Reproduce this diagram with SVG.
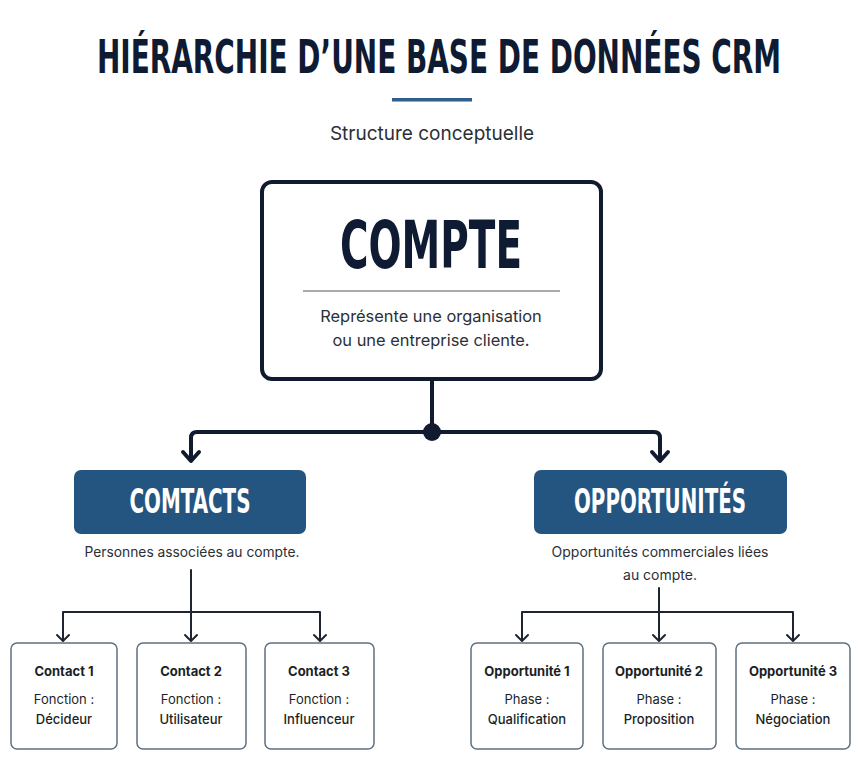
<svg xmlns="http://www.w3.org/2000/svg" width="865" height="768" viewBox="0 0 865 768">
<defs>
<style>
.cond{font-family:"DejaVu Sans Condensed","Liberation Sans",sans-serif;font-weight:bold;text-anchor:middle}
.body{font-family:Inter,"Liberation Sans",sans-serif;text-anchor:middle;fill:#2b2f36}
.thick{fill:none;stroke:#111a2e;stroke-width:4;stroke-linejoin:round;stroke-linecap:round}
.thin{fill:none;stroke:#1f2530;stroke-width:2;stroke-linejoin:round;stroke-linecap:round}
.cat{fill:#245580}
.leaf{fill:#ffffff;stroke:#5f7080;stroke-width:1.5}
.lt{font-family:Inter,"Liberation Sans",sans-serif;text-anchor:middle;font-size:13px;fill:#1b1f26}
</style>
</defs>
<rect width="865" height="768" fill="#ffffff"/>
<g id="title">
<text x="0" y="0" transform="translate(439 73) scale(0.622 1)" class="cond" font-size="46" fill="#0f1b33" textLength="1100" lengthAdjust="spacingAndGlyphs">HIÉRARCHIE D’UNE BASE DE DONNÉES CRM</text>
<rect x="392" y="98" width="80" height="3.5" fill="#2f5f8a"/>
<text x="432" y="140" class="body" font-size="19" fill="#333">Structure conceptuelle</text>
</g>
<g id="connectors">
<path class="thick" d="M432 380 V432"/>
<path class="thick" d="M432 432 H197 Q191 432 191 438 V460"/>
<path class="thick" d="M432 432 H654 Q660 432 660 438 V460"/>
<path class="thick" d="M183 452 L191 461 L199 452"/>
<path class="thick" d="M652 452 L660 461 L668 452"/>
<circle cx="432" cy="432" r="9" fill="#111a2e"/>
<path class="thin" d="M191 570 V640"/>
<path class="thin" d="M63 640 V612 H320 V640"/>
<path class="thin" d="M659 588 V640"/>
<path class="thin" d="M522 640 V612 H793 V640"/>
<g class="thin">
<path d="M57 635 L63 641 L69 635"/>
<path d="M185 635 L191 641 L197 635"/>
<path d="M314 635 L320 641 L326 635"/>
<path d="M516 635 L522 641 L528 635"/>
<path d="M653 635 L659 641 L665 635"/>
<path d="M787 635 L793 641 L799 635"/>
</g>
</g>
<g id="compte">
<rect x="262" y="182" width="339" height="197" rx="10" fill="#ffffff" stroke="#111a2e" stroke-width="4"/>
<text x="431" y="268" class="cond" font-size="66" fill="#0f1b33" textLength="182" lengthAdjust="spacingAndGlyphs">COMPTE</text>
<line x1="303" y1="291" x2="560" y2="291" stroke="#555" stroke-width="1.2"/>
<text x="431" y="322" class="body" font-size="16.4">Représente une organisation</text>
<text x="431" y="346" class="body" font-size="16.4">ou une entreprise cliente.</text>
</g>
<g id="contacts">
<rect x="74" y="470" width="232" height="64" rx="7" class="cat"/>
<text x="190" y="513" class="cond" font-size="34" fill="#ffffff" textLength="121" lengthAdjust="spacingAndGlyphs">COMTACTS</text>
<text x="192" y="557" class="body" font-size="13.8">Personnes associées au compte.</text>
</g>
<g id="opportunites">
<rect x="534" y="470" width="253" height="64" rx="7" class="cat"/>
<text x="660" y="513" class="cond" font-size="34" fill="#ffffff" textLength="172" lengthAdjust="spacingAndGlyphs">OPPORTUNITÉS</text>
<text x="660" y="557" class="body" font-size="14">Opportunités commerciales liées</text>
<text x="660" y="580" class="body" font-size="14">au compte.</text>
</g>
<g id="contact1">
<rect x="11" y="643" width="106" height="106" rx="6" class="leaf"/>
<text x="64" y="676" class="lt" font-weight="bold">Contact 1</text>
<text x="64" y="704" class="lt">Fonction :</text>
<text x="64" y="724" class="lt" font-weight="500">Décideur</text>
</g>
<g id="contact2">
<rect x="137" y="643" width="109" height="106" rx="6" class="leaf"/>
<text x="191" y="676" class="lt" font-weight="bold">Contact 2</text>
<text x="191" y="704" class="lt">Fonction :</text>
<text x="191" y="724" class="lt" font-weight="500">Utilisateur</text>
</g>
<g id="contact3">
<rect x="265" y="643" width="109" height="106" rx="6" class="leaf"/>
<text x="319" y="676" class="lt" font-weight="bold">Contact 3</text>
<text x="319" y="704" class="lt">Fonction :</text>
<text x="319" y="724" class="lt" font-weight="500">Influenceur</text>
</g>
<g id="opp1">
<rect x="471" y="643" width="112" height="106" rx="6" class="leaf"/>
<text x="527" y="676" class="lt" font-weight="bold">Opportunité 1</text>
<text x="527" y="704" class="lt">Phase :</text>
<text x="527" y="724" class="lt" font-weight="500">Qualification</text>
</g>
<g id="opp2">
<rect x="603" y="643" width="113" height="106" rx="6" class="leaf"/>
<text x="659" y="676" class="lt" font-weight="bold">Opportunité 2</text>
<text x="659" y="704" class="lt">Phase :</text>
<text x="659" y="724" class="lt" font-weight="500">Proposition</text>
</g>
<g id="opp3">
<rect x="736" y="643" width="114" height="106" rx="6" class="leaf"/>
<text x="793" y="676" class="lt" font-weight="bold">Opportunité 3</text>
<text x="793" y="704" class="lt">Phase :</text>
<text x="793" y="724" class="lt" font-weight="500">Négociation</text>
</g>
</svg>
